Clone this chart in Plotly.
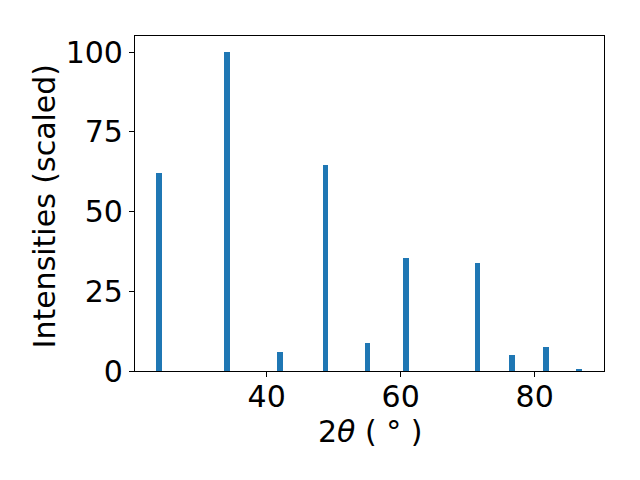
import plotly.graph_objects as go

two_theta = [23.95, 34.07, 41.97, 48.81, 55.07, 60.8, 71.5, 76.6, 81.7, 86.6]
intensity = [62.1, 100.0, 6.0, 64.6, 8.8, 35.4, 33.9, 5.0, 7.5, 0.6]
x_ticks = [40, 60, 80]
y_ticks = [0, 25, 50, 75, 100]
x_title = "2<i>θ</i> ( ° )"
y_title = "Intensities (scaled)"

fig = go.Figure()
fig.add_trace(go.Bar(x=two_theta, y=intensity, width=0.8,
                     marker=dict(color="#1f77b4", line=dict(width=0))))

font = dict(family="DejaVu Sans", size=30, color="black")
fig.update_layout(
    width=640, height=480,
    margin=dict(l=127, r=44, t=28, b=117, pad=0),
    paper_bgcolor="white", plot_bgcolor="white",
    showlegend=False, font=font, bargap=0,
)
fig.update_xaxes(range=[20.35, 90.35], tickvals=x_ticks, ticks="outside", ticklen=5,
                 tickwidth=1.1, tickcolor="black", showline=True, linecolor="black",
                 linewidth=1.1, mirror=True, showgrid=False, zeroline=False,
                 tickfont=font, ticklabelstandoff=-6)
fig.update_yaxes(range=[0, 105.1], tickvals=y_ticks, ticks="outside", ticklen=5,
                 tickwidth=1.1, tickcolor="black", showline=True, linecolor="black",
                 linewidth=1.1, mirror=True, showgrid=False, zeroline=False,
                 tickfont=font)
fig.add_annotation(text=x_title, xref="paper", yref="paper", x=0.5, y=-0.18,
                   xanchor="center", yanchor="middle", showarrow=False, font=font)
fig.add_annotation(text=y_title, xref="paper", yref="paper", x=-0.192, y=0.494,
                   xanchor="center", yanchor="middle", textangle=-90,
                   showarrow=False, font=font)
fig.write_html("out.html")
